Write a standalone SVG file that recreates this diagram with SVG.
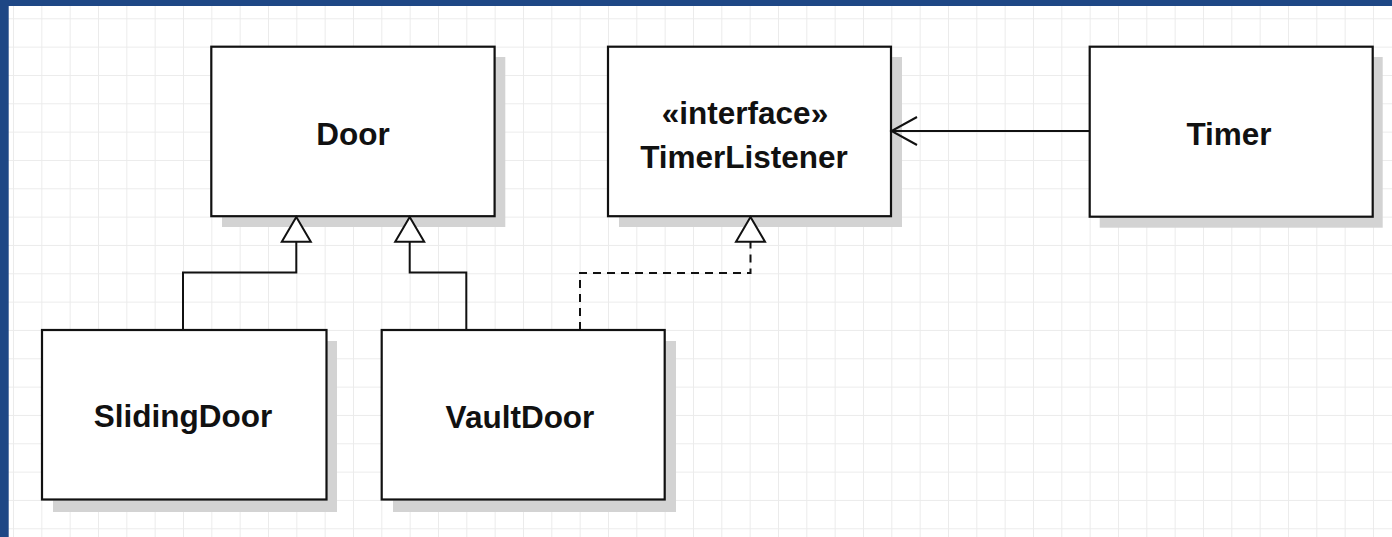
<svg xmlns="http://www.w3.org/2000/svg" width="1392" height="537" viewBox="0 0 1392 537">
  <defs>
    <pattern id="grid" patternUnits="userSpaceOnUse" x="13" y="18.3" width="28.333" height="28.333">
      <path d="M0 0 H28.333 M0 0 V28.333" fill="none" stroke="#ebebeb" stroke-width="2"/>
    </pattern>
    <style>
      .shadow { fill: #d3d3d3; }
      .box { fill: #ffffff; stroke: #111111; stroke-width: 2.2; }
      .label { font-family: "Liberation Sans", Arial, sans-serif; font-weight: bold; font-size: 31.5px; fill: #111111; text-anchor: middle; }
      .line { fill: none; stroke: #111111; stroke-width: 2; }
      .dash { fill: none; stroke: #111111; stroke-width: 2; stroke-dasharray: 8 6; }
      .tri { fill: #ffffff; stroke: #111111; stroke-width: 2; stroke-linejoin: miter; }
    </style>
  </defs>
  <rect x="0" y="0" width="1392" height="537" fill="#ffffff"/>
  <rect x="0" y="0" width="1392" height="537" fill="url(#grid)"/>
  <rect x="0" y="0" width="1392" height="6" fill="#1e4785"/>
  <rect x="0" y="0" width="8.7" height="537" fill="#1e4785"/>

  <g id="node-door">
    <rect class="shadow" x="222" y="57" width="283.3" height="170"/>
    <rect class="box" x="211.3" y="46.7" width="283.3" height="169.5"/>
    <text class="label" x="353" y="145">Door</text>
  </g>
  <g id="node-timerlistener">
    <rect class="shadow" x="619" y="57" width="283" height="170"/>
    <rect class="box" x="608" y="46.7" width="283" height="169.5"/>
    <text class="label" x="745" y="123.5">«interface»</text>
    <text class="label" x="744" y="167.5">TimerListener</text>
  </g>
  <g id="node-timer">
    <rect class="shadow" x="1099.7" y="57" width="283" height="170.7"/>
    <rect class="box" x="1089.7" y="46.7" width="283" height="170"/>
    <text class="label" x="1229" y="145">Timer</text>
  </g>
  <g id="node-slidingdoor">
    <rect class="shadow" x="53" y="341" width="284" height="171"/>
    <rect class="box" x="42" y="330" width="284.5" height="169.5"/>
    <text class="label" x="183" y="427">SlidingDoor</text>
  </g>
  <g id="node-vaultdoor">
    <rect class="shadow" x="393" y="341" width="283" height="171"/>
    <rect class="box" x="381.7" y="330" width="283" height="169.5"/>
    <text class="label" x="520" y="428">VaultDoor</text>
  </g>

  <g id="connectors">
    <polyline class="line" points="183,330 183,272.5 296.3,272.5 296.3,241.7"/>
    <polygon class="tri" points="296.3,217 281.8,241.7 310.8,241.7"/>
    <polyline class="line" points="466.3,330 466.3,272.5 409.7,272.5 409.7,241.7"/>
    <polygon class="tri" points="409.7,217 395.2,241.7 424.2,241.7"/>
    <polyline class="dash" points="580,330 580,273 750.5,273 750.5,241.7"/>
    <polygon class="tri" points="750.5,217 736,241.7 765,241.7"/>
    <line class="line" x1="1089.7" y1="131" x2="892" y2="131"/>
    <polyline class="line" points="917,117 891.5,131 917,145"/>
  </g>
</svg>
